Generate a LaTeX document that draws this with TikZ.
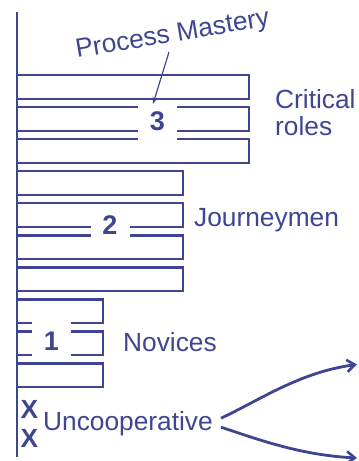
\documentclass[tikz,border=0pt]{standalone}
\usepackage{fontspec}
\setmainfont{Liberation Sans}
\usetikzlibrary{arrows.meta}
\definecolor{ink}{RGB}{62,70,146}
\begin{document}
\begin{tikzpicture}[x=1bp,y=-1bp,
  bar/.style={draw=ink,line width=2.4bp},
  txt/.style={text=ink,inner sep=0pt,font=\fontsize{26.3bp}{27bp}\selectfont},
  num/.style={text=ink,fill=white,inner sep=0pt,minimum width=39bp,minimum height=40bp,font=\bfseries\fontsize{27bp}{27bp}\selectfont},
  flow/.style={draw=ink,line width=2.8bp,-{Straight Barb[length=8bp,width=12bp,line width=2.6bp]}},
  pointer/.style={draw=ink,line width=1.2bp,-{Stealth[length=7bp,width=5bp]}}]
\useasboundingbox (0,0) rectangle (358,461);
% bars
\foreach \i/\r in {1/249,2/249,3/249,4/183,5/183,6/183,7/183,8/103,9/103,10/103}{
  \pgfmathsetmacro{\t}{75.3+32*(\i-1)}
  \draw[bar] (17,\t) rectangle (\r,\t+23.5);
}
% level numbers
\node[num] (n3) at (157.5,121) {3};
\node[num] (n2) at (110,225) {2};
\node[num] (n1) at (51.5,341) {1};
% axis
\coordinate (axtop) at (16.7,12);
\coordinate (axbot) at (16.7,457);
\draw[ink,line width=2.4bp] (axtop) -- (axbot);
% labels
\node[txt,anchor=north west,align=left] (crit) at (275,89.5) {Critical\\roles};
\node[txt,anchor=base west] (journ) at (194,227) {Journeymen};
\node[txt,anchor=base west] (nov) at (123,351) {Novices};
\node[txt,anchor=base west] (unc) at (43,430) {Uncooperative};
\node[txt,anchor=base west,font=\bfseries\fontsize{26.3bp}{27bp}\selectfont] (x1) at (20.5,418) {X};
\node[txt,anchor=base west,font=\bfseries\fontsize{26.3bp}{27bp}\selectfont] (x2) at (20.5,447) {X};
\node[txt,anchor=base west,rotate=9.5] (pm) at (77,58) {Process Mastery};
% pointer
\coordinate (pmfoot) at (169,52);
\coordinate (n3tip) at (153,104);
\draw[pointer] (pmfoot) -- (n3tip);
% outgoing arrows
\coordinate (upEnd) at (357,364.5);
\coordinate (downEnd) at (357,458);
\draw[flow] ([xshift=8bp,yshift=5bp]unc.east) .. controls (260,400) and (300,372) .. (upEnd);
\draw[flow] ([xshift=8bp,yshift=-4bp]unc.east) .. controls (260,440) and (300,455) .. (downEnd);
\end{tikzpicture}
\end{document}
